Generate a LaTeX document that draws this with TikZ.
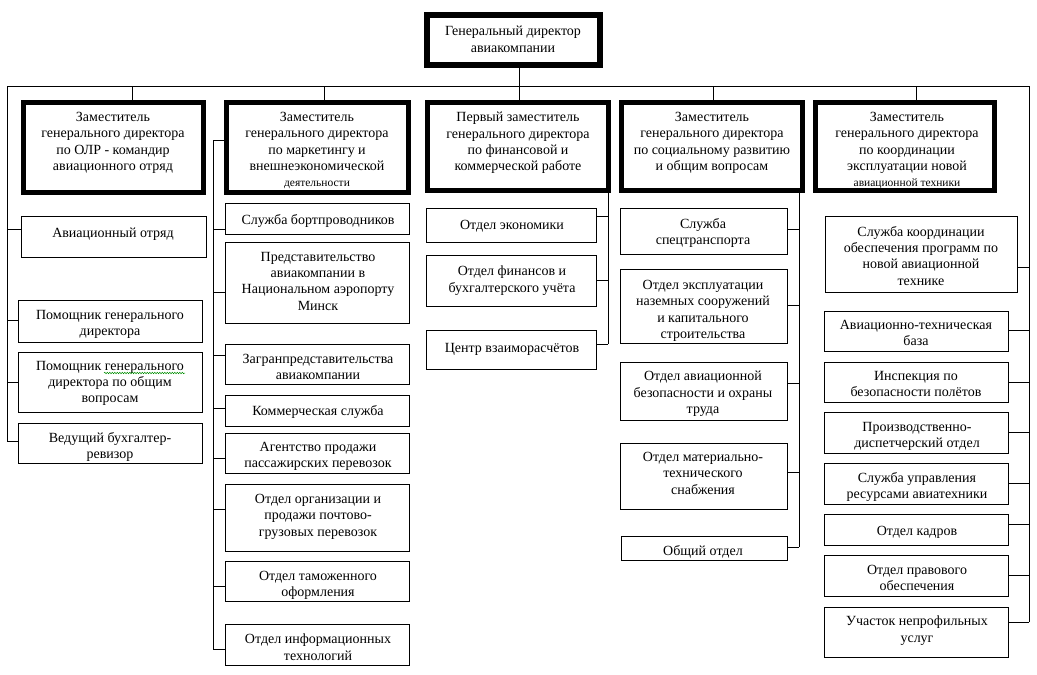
\documentclass[tikz,border=0pt]{standalone}
\usepackage{fontspec}
\setmainfont{Liberation Serif}
\usetikzlibrary{decorations.pathmorphing}
\begin{document}
\begin{tikzpicture}[x=1pt,y=-1pt,
  heavybox/.style={draw, line width=5pt, anchor=north west, inner sep=0pt, outer sep=0pt},
  topbox/.style={draw, line width=6pt, anchor=north west, inner sep=0pt, outer sep=0pt},
  unitbox/.style={draw, line width=0.9pt, anchor=north west, inner sep=0pt, outer sep=0pt, minimum width=184},
  txt/.style={anchor=north, yshift=9pt, align=center, inner sep=0pt, font=\fontsize{14}{16.3}\selectfont, execute at begin node=\strut},
  conn/.style={line width=0.9pt},
  spellmark/.style={draw=green!55!black, line width=0.5pt, decorate, decoration={snake, amplitude=0.7pt, segment length=2.5pt}}]
\useasboundingbox (0,0) rectangle (1037,675);
% top and level-2 boxes
\node[topbox, minimum width=173, minimum height=50] (gen) at (427,15) {};
\node[heavybox, minimum width=180, minimum height=90] (d1) at (23.5,102.5) {};
\node[heavybox, minimum width=182, minimum height=90] (d2) at (226.5,102.5) {};
\node[heavybox, minimum width=181, minimum height=88] (d3) at (427.5,102.5) {};
\node[heavybox, minimum width=181, minimum height=88] (d4) at (621.5,102.5) {};
\node[heavybox, minimum width=179, minimum height=88] (d5) at (815.5,102.5) {};
% column 1
\node[unitbox, minimum width=185, minimum height=41] (av) at (21,216) {};
\node[unitbox, minimum height=42] (pom1) at (18,300) {};
\node[unitbox, minimum height=60] (pom2) at (18,352) {};
\node[unitbox, minimum height=40] (bux) at (18,423) {};
% column 2
\node[unitbox, minimum height=31] (bort) at (225.5,203) {};
\node[unitbox, minimum height=81] (pred) at (225.5,242) {};
\node[unitbox, minimum height=40] (zagr) at (225.5,344) {};
\node[unitbox, minimum height=31] (komm) at (225.5,395) {};
\node[unitbox, minimum height=40] (agent) at (225.5,433) {};
\node[unitbox, minimum height=67] (org) at (225.5,484) {};
\node[unitbox, minimum height=40] (tam) at (225.5,561) {};
\node[unitbox, minimum height=41] (inf) at (225.5,624) {};
% column 3
\node[unitbox, minimum width=170, minimum height=34] (ekon) at (426,208) {};
\node[unitbox, minimum width=170, minimum height=51] (fin) at (426,255) {};
\node[unitbox, minimum width=170, minimum height=39] (centr) at (426,330) {};
% column 4
\node[unitbox, minimum width=167, minimum height=46] (spec) at (620,208) {};
\node[unitbox, minimum width=167, minimum height=74] (expl) at (620,269) {};
\node[unitbox, minimum width=167, minimum height=58] (bez) at (620,362) {};
\node[unitbox, minimum width=167, minimum height=66] (mat) at (620,443) {};
\node[unitbox, minimum width=166, minimum height=24] (obsh) at (621,536) {};
% column 5
\node[unitbox, minimum width=192, minimum height=76] (koord) at (825,216) {};
\node[unitbox, minimum height=40] (atb) at (824,311) {};
\node[unitbox, minimum height=40] (insp) at (824,362) {};
\node[unitbox, minimum height=41] (pdo) at (824,412) {};
\node[unitbox, minimum height=41] (sur) at (824,463) {};
\node[unitbox, minimum height=31] (kadr) at (824,514) {};
\node[unitbox, minimum height=41] (prav) at (824,555) {};
\node[unitbox, minimum height=50] (uch) at (824,607) {};

% texts
\node[txt] at (513,35) {Генеральный директор\\авиакомпании};
\node[txt] at (113,121) {Заместитель\\генерального директора\\по ОЛР - командир\\авиационного отряд};
\node[txt] at (317,121) {Заместитель\\генерального директора\\по маркетингу и\\внешнеэкономической\\{\fontsize{11.5}{16.3}\selectfont деятельности}};
\node[txt] at (518,121) {Первый заместитель\\генерального директора\\по финансовой и\\коммерческой работе};
\node[txt] at (712,121) {Заместитель\\генерального директора\\по социальному развитию\\и общим вопросам};
\node[txt] at (907,121) {Заместитель\\генерального директора\\по координации\\эксплуатации новой\\{\fontsize{11.5}{16.3}\selectfont авиационной техники}};

\node[txt] at (113,235) {Авиационный отряд};
\node[txt] at (110,319) {Помощник генерального\\директора};
\node[txt] at (110,370) {Помощник генерального\\директора по общим\\вопросам};
\node[txt] at (110,441) {Ведущий бухгалтер-\\ревизор};

\node[txt] at (318,222) {Служба бортпроводников};
\node[txt] at (318,261) {Представительство\\авиакомпании в\\Национальном аэропорту\\Минск};
\node[txt] at (318,363) {Загранпредставительства\\авиакомпании};
\node[txt] at (318,413) {Коммерческая служба};
\node[txt] at (318,451) {Агентство продажи\\пассажирских перевозок};
\node[txt] at (318,503) {Отдел организации и\\продажи почтово-\\грузовых перевозок};
\node[txt] at (318,580) {Отдел таможенного\\оформления};
\node[txt] at (318,643) {Отдел информационных\\технологий};

\node[txt] at (512,227) {Отдел экономики};
\node[txt] at (512,275) {Отдел финансов и\\бухгалтерского учёта};
\node[txt] at (512,350) {Центр взаиморасчётов};

\node[txt] at (703,227) {Служба\\спецтранспорта};
\node[txt] at (703,289) {Отдел эксплуатации\\наземных сооружений\\и капитального\\строительства};
\node[txt] at (703,380) {Отдел авиационной\\безопасности и охраны\\труда};
\node[txt] at (703,461) {Отдел материально-\\технического\\снабжения};
\node[txt] at (703,553) {Общий отдел};

\node[txt] at (921,235) {Служба координации\\обеспечения программ по\\новой авиационной\\технике};
\node[txt] at (916,329) {Авиационно-техническая\\база};
\node[txt] at (916,380) {Инспекция по\\безопасности полётов};
\node[txt] at (917,431) {Производственно-\\диспетчерский отдел};
\node[txt] at (917,481) {Служба управления\\ресурсами авиатехники};
\node[txt] at (917,533) {Отдел кадров};
\node[txt] at (917,574) {Отдел правового\\обеспечения};
\node[txt] at (917,625) {Участок непрофильных\\услуг};

% spell-check wave under "генерального"
\draw[spellmark] (104,373) -- (185,373);

% bus coordinates
\coordinate (L) at (7,86);
\coordinate (R) at (1029,86);
\coordinate (m) at (519,86);
\coordinate (t1) at (132,86);
\coordinate (t2) at (324,86);
\coordinate (t4) at (713,86);
\coordinate (t5) at (916,86);
\draw[conn] (L) -- (R);
\draw[conn] (gen.south -| m) -- (d3.north -| m);
\draw[conn] (t1) -- (d1.north -| t1);
\draw[conn] (t2) -- (d2.north -| t2);
\draw[conn] (t4) -- (d4.north -| t4);
\draw[conn] (t5) -- (d5.north -| t5);

% column 1 connectors
\coordinate (a1) at (7,229);
\coordinate (a2) at (7,320);
\coordinate (a3) at (7,382);
\coordinate (a4) at (7,441);
\draw[conn] (L) -- (a4);
\draw[conn] (a1) -- (av.west |- a1);
\draw[conn] (a2) -- (pom1.west |- a2);
\draw[conn] (a3) -- (pom2.west |- a3);
\draw[conn] (a4) -- (bux.west |- a4);

% column 2 connectors
\coordinate (v2) at (213,140);
\coordinate (b1) at (213,229);
\coordinate (b2) at (213,292);
\coordinate (b3) at (213,355);
\coordinate (b4) at (213,408);
\coordinate (b5) at (213,458);
\coordinate (b6) at (213,509);
\coordinate (b7) at (213,586);
\coordinate (b8) at (213,649);
\draw[conn] (d2.west |- v2) -- (v2) -- (b8);
\draw[conn] (b1) -- (bort.west |- b1);
\draw[conn] (b2) -- (pred.west |- b2);
\draw[conn] (b3) -- (zagr.west |- b3);
\draw[conn] (b4) -- (komm.west |- b4);
\draw[conn] (b5) -- (agent.west |- b5);
\draw[conn] (b6) -- (org.west |- b6);
\draw[conn] (b7) -- (tam.west |- b7);
\draw[conn] (b8) -- (inf.west |- b8);

% column 3 connectors
\coordinate (c1) at (608,216);
\coordinate (c2) at (608,280);
\coordinate (c3) at (608,344);
\draw[conn] (d3.south -| c3) -- (c3);
\draw[conn] (c1) -- (ekon.east |- c1);
\draw[conn] (c2) -- (fin.east |- c2);
\draw[conn] (c3) -- (centr.east |- c3);

% column 4 connectors
\coordinate (e1) at (799,229);
\coordinate (e2) at (799,305);
\coordinate (e3) at (799,383);
\coordinate (e4) at (799,472);
\coordinate (e5) at (799,547);
\draw[conn] (d4.south -| e5) -- (e5);
\draw[conn] (e1) -- (spec.east |- e1);
\draw[conn] (e2) -- (expl.east |- e2);
\draw[conn] (e3) -- (bez.east |- e3);
\draw[conn] (e4) -- (mat.east |- e4);
\draw[conn] (e5) -- (obsh.east |- e5);

% column 5 connectors
\coordinate (f1) at (1029,267);
\coordinate (f2) at (1029,330);
\coordinate (f3) at (1029,382);
\coordinate (f4) at (1029,432);
\coordinate (f5) at (1029,483);
\coordinate (f6) at (1029,524);
\coordinate (f7) at (1029,575);
\coordinate (f8) at (1029,622);
\draw[conn] (R) -- (f8);
\draw[conn] (f1) -- (koord.east |- f1);
\draw[conn] (f2) -- (atb.east |- f2);
\draw[conn] (f3) -- (insp.east |- f3);
\draw[conn] (f4) -- (pdo.east |- f4);
\draw[conn] (f5) -- (sur.east |- f5);
\draw[conn] (f6) -- (kadr.east |- f6);
\draw[conn] (f7) -- (prav.east |- f7);
\draw[conn] (f8) -- (uch.east |- f8);
\end{tikzpicture}
\end{document}
